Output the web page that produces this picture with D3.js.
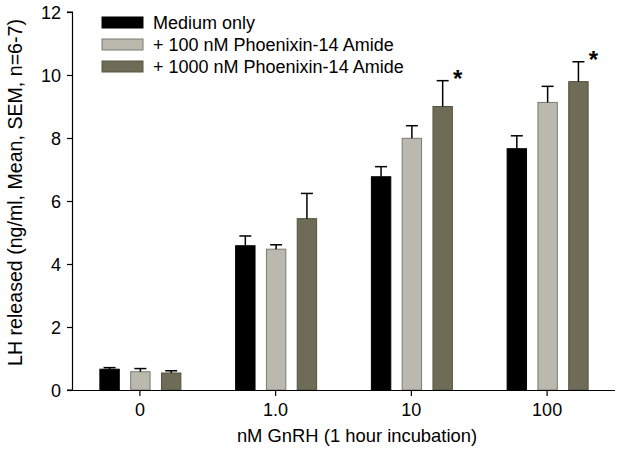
<!DOCTYPE html>
<html><head><meta charset="utf-8">
<script src="https://cdn.jsdelivr.net/npm/d3@7"></script>
<style>body{margin:0;background:#fff}svg{display:block;font-family:"Liberation Sans",Arial,sans-serif}</style>
</head><body>
<svg id="c" width="621" height="459"></svg>
<script>
const categories = ["0", "1.0", "10", "100"];
const seriesNames = ["Medium only", "+ 100 nM Phoenixin-14 Amide", "+ 1000 nM Phoenixin-14 Amide"];
const medium   = [0.66, 4.58, 6.77, 7.66];
const px100    = [0.58, 4.47, 7.99, 9.13];
const px1000   = [0.54, 5.44, 9.00, 9.79];
const semMedium = [0.05, 0.31, 0.32, 0.41];
const sem100    = [0.10, 0.14, 0.40, 0.51];
const sem1000   = [0.07, 0.80, 0.82, 0.63];
const yTicks = [0, 2, 4, 6, 8, 10, 12];
const significant = [[2, 2], [3, 2]]; // [category index, series index]
const colors = ["#000000", "#bbb9ad", "#6e6c56"];
const strokes = ["#000000", "#7a7a72", "#55543f"];

const values = [medium, px100, px1000];
const sems = [semMedium, sem100, sem1000];

const svg = d3.select("#c");
const pL = 72, pR = 615, pT = 12, pB = 390;
const x = d3.scaleBand().domain(categories).range([pL, pR]).padding(0);
const y = d3.scaleLinear().domain([0, 12]).range([pB, pT]);
const inner = d3.scaleBand().domain([0, 1, 2]).range([-40.5, 40.5]).paddingInner(0.37).paddingOuter(0);

const bars = [];
values.forEach((arr, s) => arr.forEach((v, c) => bars.push({s, c, v, e: sems[s][c]})));
const bx = d => x(categories[d.c]) + x.bandwidth() / 2 + inner(d.s) + 0.5;
const g = svg.append("g");
g.selectAll("rect.bar").data(bars).join("rect")
  .attr("x", bx)
  .attr("y", d => y(d.v))
  .attr("width", inner.bandwidth())
  .attr("height", d => y(0) - y(d.v))
  .attr("fill", d => colors[d.s])
  .attr("stroke", d => strokes[d.s])
  .attr("stroke-width", 1);

const eb = g.selectAll("g.eb").data(bars).join("g");
const cx = d => bx(d) + inner.bandwidth() / 2;
eb.append("line")
  .attr("x1", cx).attr("x2", cx)
  .attr("y1", d => y(d.v)).attr("y2", d => y(d.v + d.e))
  .attr("stroke", "#000").attr("stroke-width", 1.5);
eb.append("line")
  .attr("x1", d => cx(d) - 6).attr("x2", d => cx(d) + 6)
  .attr("y1", d => y(d.v + d.e)).attr("y2", d => y(d.v + d.e))
  .attr("stroke", "#000").attr("stroke-width", 1.5);

svg.selectAll("text.star").data(significant).join("text")
  .attr("x", d => cx({c: d[0], s: d[1]}) + 15)
  .attr("y", d => y(values[d[1]][d[0]] + sems[d[1]][d[0]]) + 6)
  .attr("text-anchor", "middle")
  .attr("font-size", 24).attr("font-weight", "bold")
  .text("*");

const yAxis = svg.append("g").attr("transform", `translate(${pL},0)`)
  .call(d3.axisLeft(y).tickValues(yTicks).tickSize(5).tickPadding(6).tickFormat(d3.format("d")));
const xAxis = svg.append("g").attr("transform", `translate(0,${pB})`)
  .call(d3.axisBottom(x).tickSize(6).tickPadding(7).tickSizeOuter(0));
[yAxis, xAxis].forEach(a => {
  a.select(".domain").attr("stroke", "#000").attr("stroke-width", 1.2);
  a.selectAll(".tick line").attr("stroke", "#000").attr("stroke-width", 1.2);
  a.selectAll(".tick text").attr("fill", "#000").attr("font-size", 18).attr("font-family", '"Liberation Sans",Arial,sans-serif');
});
yAxis.selectAll(".tick text").attr("dy", "0.36em");
yAxis.select(".domain").attr("d", `M-5,${pB}H0.5V${pT}H-5`);
xAxis.select(".domain").attr("d", `M${pL},0.5H${pR}`);

svg.append("text")
  .attr("transform", `translate(22,192.5) rotate(-90)`)
  .attr("text-anchor", "middle").attr("font-size", 19.6).attr("fill", "#000")
  .text("LH released (ng/ml, Mean, SEM, n=6-7)");
svg.append("text")
  .attr("x", (pL + pR) / 2 + 13.5).attr("y", 442)
  .attr("text-anchor", "middle").attr("font-size", 18.4).attr("fill", "#000")
  .text("nM GnRH (1 hour incubation)");

const lg = svg.append("g").attr("transform", "translate(102,17)");
const items = lg.selectAll("g").data(seriesNames).join("g")
  .attr("transform", (d, i) => `translate(0,${i * 22})`);
items.append("rect").attr("width", 41).attr("height", 11)
  .attr("fill", (d, i) => colors[i]).attr("stroke", (d, i) => strokes[i]).attr("stroke-width", 1);
items.append("text").attr("x", 51).attr("y", 12).attr("font-size", 18).attr("fill", "#000")
  .text(d => d);
</script>
</body></html>
